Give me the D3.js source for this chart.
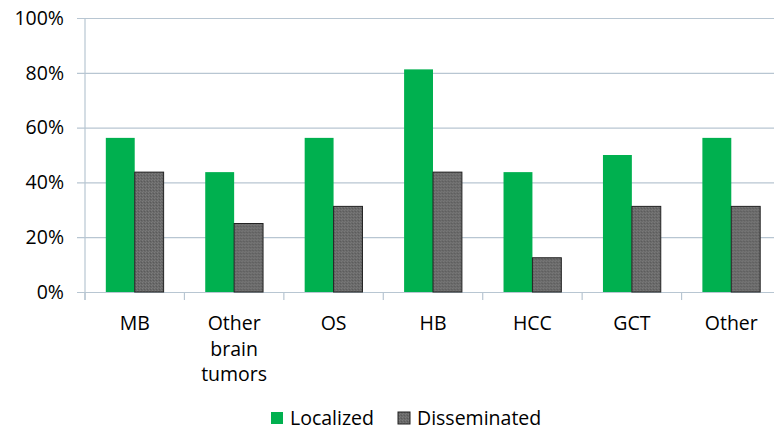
<!DOCTYPE html>
<html>
<head>
<meta charset="utf-8">
<script src="https://cdn.jsdelivr.net/npm/d3@7"></script>
<style>
  html, body { margin: 0; padding: 0; background: #fff; }
  svg { display: block; }
  text { font-family: "Open Sans", Lato, sans-serif; fill: #000; }
</style>
</head>
<body>
<svg id="chart" width="774" height="432"></svg>
<script>
// Share of patients by tumour type and disease extent
const categories = ["MB", "Other\nbrain\ntumors", "OS", "HB", "HCC", "GCT", "Other"];
const seriesNames = ["Localized", "Disseminated"];
const localized = [56.25, 43.75, 56.25, 81.25, 43.75, 50, 56.25];
const disseminated = [43.75, 25, 31.25, 43.75, 12.5, 31.25, 31.25];
const yTicks = [0, 20, 40, 60, 80, 100];

const colors = { Localized: "#00b04f", Disseminated: "url(#stipple)" };
const legendColors = { Localized: "#00b04f", Disseminated: "#666" };
const fontFamily = "'Open Sans', Lato, sans-serif";
const fontSize = 19.5;

const svg = d3.select("#chart");

// dotted grey fill used for the disseminated bars
const defs = svg.append("defs");
const pat = defs.append("pattern")
  .attr("id", "stipple").attr("width", 3).attr("height", 3)
  .attr("patternUnits", "userSpaceOnUse");
pat.append("rect").attr("width", 3).attr("height", 3).attr("fill", "#6a6a6a");
pat.append("rect").attr("x", 0).attr("y", 0).attr("width", 1).attr("height", 1).attr("fill", "#7c7c7c");
pat.append("rect").attr("x", 2).attr("y", 1).attr("width", 1).attr("height", 1).attr("fill", "#5a5a5a");
pat.append("rect").attr("x", 1).attr("y", 2).attr("width", 1).attr("height", 1).attr("fill", "#787878");

const plotLeft = 85, plotRight = 781, plotTop = 18, plotBottom = 292;

const x0 = d3.scaleBand().domain(categories).range([plotLeft, plotRight]).paddingInner(0).paddingOuter(0);
const x1 = d3.scaleBand().domain(seriesNames).range([0, x0.bandwidth()]).paddingInner(0).paddingOuter(0.72);
const y = d3.scaleLinear().domain([0, 100]).range([plotBottom, plotTop]);

const gridColor = "#b8c6d2";

// horizontal gridlines with short ticks outside the axis
const yAxis = d3.axisLeft(y).tickValues(yTicks).tickFormat(d => d + "%")
  .tickSize(-(plotRight - plotLeft)).tickSizeOuter(0).tickPadding(14);
const gy = svg.append("g").attr("transform", `translate(${plotLeft},0)`).call(yAxis);
gy.select(".domain").remove();
gy.selectAll(".tick line").attr("stroke", gridColor).attr("stroke-width", 1.2)
  .attr("x1", -8);
gy.selectAll(".tick text").attr("font-size", fontSize).attr("fill", "#000")
  .attr("font-family", fontFamily).attr("x", -21);

// vertical axis line
svg.append("line")
  .attr("x1", plotLeft).attr("x2", plotLeft)
  .attr("y1", y(100)).attr("y2", y(0) + 8)
  .attr("stroke", gridColor).attr("stroke-width", 1.2);

// category boundary ticks below the baseline
svg.append("g").selectAll("line")
  .data(categories)
  .join("line")
  .attr("x1", d => x0(d)).attr("x2", d => x0(d))
  .attr("y1", y(0)).attr("y2", y(0) + 8)
  .attr("stroke", gridColor).attr("stroke-width", 1.2);

// bars
const rows = categories.map((c, i) => ({ cat: c, Localized: localized[i], Disseminated: disseminated[i] }));
const groups = svg.append("g").selectAll("g")
  .data(rows).join("g")
  .attr("transform", d => `translate(${x0(d.cat)},0)`);

groups.selectAll("rect")
  .data(d => seriesNames.map(s => ({ s, v: d[s] })))
  .join("rect")
  .attr("x", d => x1(d.s))
  .attr("y", d => y(d.v))
  .attr("width", x1.bandwidth())
  .attr("height", d => y(0) - y(d.v))
  .attr("fill", d => colors[d.s])
  .attr("stroke", d => d.s === "Disseminated" ? "#222" : "none")
  .attr("stroke-width", 1);

// category labels, possibly multi-line
const labels = svg.append("g").selectAll("text")
  .data(categories).join("text")
  .attr("text-anchor", "middle")
  .attr("font-size", fontSize)
  .attr("transform", d => `translate(${x0(d) + x0.bandwidth() / 2},${330})`);
labels.selectAll("tspan")
  .data(d => d.split("\n"))
  .join("tspan")
  .attr("x", 0)
  .attr("y", (d, i) => i * 25.5)
  .text(d => d);

// legend
const legendItems = [
  { name: "Localized", sx: 271, tx: 290 },
  { name: "Disseminated", sx: 398, tx: 417 }
];
const lg = svg.append("g");
lg.selectAll("rect").data(legendItems).join("rect")
  .attr("x", d => d.sx).attr("y", 412).attr("width", 12).attr("height", 12)
  .attr("fill", d => d.name === "Disseminated" ? "url(#stipple)" : legendColors[d.name])
  .attr("stroke", d => d.name === "Disseminated" ? "#222" : "none");
lg.selectAll("text").data(legendItems).join("text")
  .attr("x", d => d.tx).attr("y", 425)
  .attr("font-size", fontSize)
  .text(d => d.name);
</script>
</body>
</html>
